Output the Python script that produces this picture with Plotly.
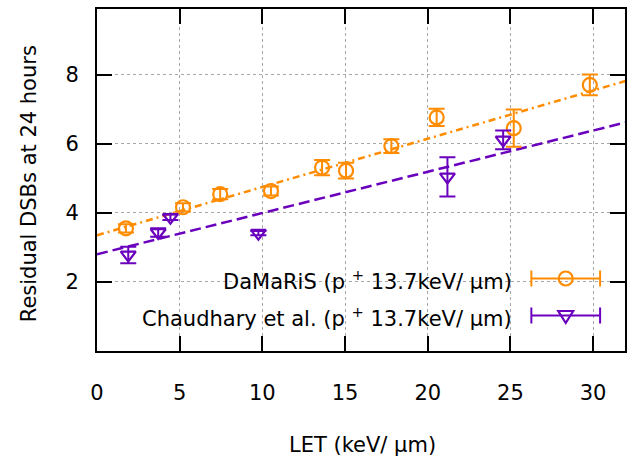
import plotly.graph_objects as go

# ---- data ----
damaris_let = [1.75, 5.2, 7.45, 10.52, 13.61, 15.06, 17.8, 20.54, 25.2, 29.8]
damaris_dsb = [3.55, 4.16, 4.54, 4.63, 5.31, 5.22, 5.93, 6.76, 6.45, 7.70]
damaris_err = [0.12, 0.12, 0.15, 0.13, 0.22, 0.23, 0.20, 0.25, 0.54, 0.30]

chaud_let = [1.89, 3.70, 4.44, 9.76, 21.19, 24.56]
chaud_dsb = [2.78, 3.43, 3.87, 3.41, 5.04, 6.11]
chaud_err = [0.24, 0.12, 0.08, 0.06, 0.57, 0.27]

fit_let = [0, 32]
damaris_fit = [3.35, 7.82]
chaud_fit = [2.80, 6.62]

x_ticks = [0, 5, 10, 15, 20, 25, 30]
y_ticks = [2, 4, 6, 8]

ORANGE = "#ff8c00"
PURPLE = "#6a00bd"
FONT = "DejaVu Sans"
FS = 21

fig = go.Figure()

fig.add_trace(go.Scatter(x=fit_let, y=damaris_fit, mode="lines",
                         line=dict(color=ORANGE, width=2.5, dash="7px,4px,2px,4px"),
                         hoverinfo="skip", showlegend=False))
fig.add_trace(go.Scatter(x=fit_let, y=chaud_fit, mode="lines",
                         line=dict(color=PURPLE, width=2.5, dash="11px,5px"),
                         hoverinfo="skip", showlegend=False))

fig.add_trace(go.Scatter(x=damaris_let, y=damaris_dsb, mode="markers",
                         marker=dict(symbol="circle-open", size=14, color=ORANGE,
                                     line=dict(width=2.2, color=ORANGE)),
                         error_y=dict(type="data", array=damaris_err, visible=True,
                                      color=ORANGE, thickness=2, width=8),
                         showlegend=False))
fig.add_trace(go.Scatter(x=chaud_let, y=chaud_dsb, mode="markers",
                         marker=dict(symbol="triangle-down-open", size=13, color=PURPLE,
                                     line=dict(width=2.2, color=PURPLE)),
                         error_y=dict(type="data", array=chaud_err, visible=True,
                                      color=PURPLE, thickness=2, width=8),
                         showlegend=False))

W, H = 627, 460
L, R, T, B = 97, 0, 9, 109
PW, PH = W - L - R, H - T - B

def px2paper_x(px):
    return (px - L) / PW

def px2paper_y(py):
    return (H - B - py) / PH

# opaque key box (covers grid)
fig.add_shape(type="rect", xref="paper", yref="paper",
              x0=px2paper_x(138), x1=1.0, y0=0.0, y1=px2paper_y(261),
              fillcolor="white", line=dict(width=0), layer="between")

# manual key
rows = [
    ("DaMaRiS (p <sup>+</sup> 13.7keV/ μm)", ORANGE, "circle", 278.5),
    ("Chaudhary et al. (p <sup>+</sup> 13.7keV/ μm)", PURPLE, "tri", 315.5),
]
sx0, sx1 = 533, 602
sxm = (sx0 + sx1) / 2
for text, col, sym, yc in rows:
    fig.add_annotation(xref="paper", yref="paper", x=px2paper_x(516), y=px2paper_y(yc + 1),
                       text=text, showarrow=False, xanchor="right", yanchor="middle",
                       font=dict(family=FONT, size=FS, color="black"))
    fig.add_shape(type="line", xref="paper", yref="paper",
                  x0=px2paper_x(sx0), x1=px2paper_x(sx1), y0=px2paper_y(yc), y1=px2paper_y(yc),
                  line=dict(color=col, width=2))
    for xe in (sx0, sx1):
        fig.add_shape(type="line", xref="paper", yref="paper",
                      x0=px2paper_x(xe), x1=px2paper_x(xe),
                      y0=px2paper_y(yc - 8), y1=px2paper_y(yc + 8),
                      line=dict(color=col, width=2))
    if sym == "circle":
        r = 7
        fig.add_shape(type="circle", xref="paper", yref="paper",
                      x0=px2paper_x(sxm - r), x1=px2paper_x(sxm + r),
                      y0=px2paper_y(yc + r), y1=px2paper_y(yc - r),
                      line=dict(color=col, width=2.2), fillcolor="rgba(0,0,0,0)")
    else:
        hw, top, bot = 7.5, yc - 4.5, yc + 7.5
        path = "M {:.5f},{:.5f} L {:.5f},{:.5f} L {:.5f},{:.5f} Z".format(
            px2paper_x(sxm - hw), px2paper_y(top),
            px2paper_x(sxm + hw), px2paper_y(top),
            px2paper_x(sxm), px2paper_y(bot))
        fig.add_shape(type="path", xref="paper", yref="paper", path=path,
                      line=dict(color=col, width=2.2))

# axis titles
fig.add_annotation(xref="paper", yref="paper", x=px2paper_x(364), y=px2paper_y(445),
                   text="LET (keV/ μm)", showarrow=False, xanchor="center", yanchor="middle",
                   font=dict(family=FONT, size=FS, color="black"))
fig.add_annotation(xref="paper", yref="paper", x=px2paper_x(29), y=px2paper_y(184),
                   text="Residual DSBs at 24 hours", showarrow=False, textangle=-90,
                   xanchor="center", yanchor="middle",
                   font=dict(family=FONT, size=FS, color="black"))

axis_common = dict(showline=True, linecolor="black", linewidth=2, mirror="ticks",
                   ticks="inside", ticklen=15, tickwidth=2, tickcolor="black",
                   showgrid=True, gridcolor="#a8a8a8", griddash="dot", gridwidth=1,
                   zeroline=False, tickfont=dict(family=FONT, size=FS, color="black"))

fig.update_layout(
    width=W, height=H,
    margin=dict(l=L, r=R, t=T, b=B),
    paper_bgcolor="white", plot_bgcolor="white",
    xaxis=dict(range=[0, PW / 16.6], tickvals=x_ticks, ticklabelstandoff=22, **axis_common),
    yaxis=dict(range=[0, PH / 34.55], tickvals=y_ticks, ticklabelstandoff=12, **axis_common),
)

fig.write_html("out.html")
